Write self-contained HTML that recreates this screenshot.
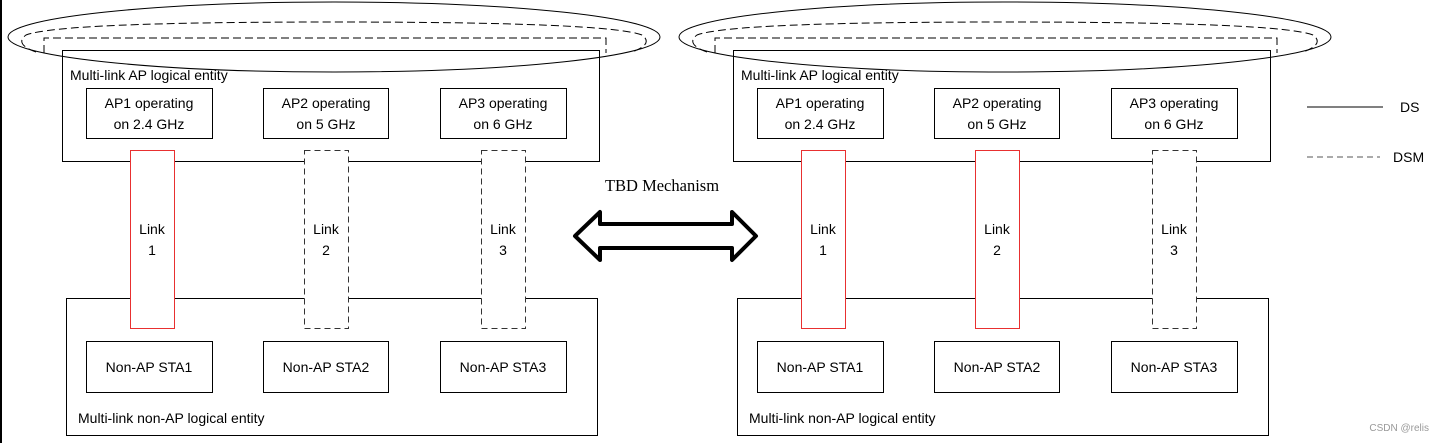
<!DOCTYPE html>
<html><head><meta charset="utf-8"><style>
html,body{margin:0;padding:0;background:#fff;}
svg{display:block;}
text{font-family:"Liberation Sans",sans-serif;font-size:14px;fill:#000;}
</style></head><body>
<svg width="1438" height="443" viewBox="0 0 1438 443" xmlns="http://www.w3.org/2000/svg">
<rect x="0" y="0" width="2" height="443" fill="#000"/>
<defs>
<g id="side">
  <ellipse cx="334" cy="37" rx="326" ry="35" fill="none" stroke="#000" stroke-width="1"/>
  <path d="M36 52 Q14 44 26 35 Q60 22 334 22 Q608 22 642 35 Q654 44 632 52" fill="none" stroke="#000" stroke-dasharray="8,4"/>
  <path d="M44 53 L44 38 L606 38 L606 53" fill="none" stroke="#000" stroke-dasharray="8,4"/>
  <rect x="62.5" y="50.5" width="537" height="111" fill="none" stroke="#000"/>
  <text x="70" y="80">Multi-link AP logical entity</text>
  <rect x="86.5" y="88.5" width="126" height="50" fill="#fff" stroke="#000"/>
  <rect x="263.5" y="88.5" width="125" height="50" fill="#fff" stroke="#000"/>
  <rect x="440.5" y="88.5" width="126" height="50" fill="#fff" stroke="#000"/>
  <text x="149" y="108" text-anchor="middle">AP1 operating</text>
  <text x="149" y="129" text-anchor="middle">on 2.4 GHz</text>
  <text x="326" y="108" text-anchor="middle">AP2 operating</text>
  <text x="326" y="129" text-anchor="middle">on 5 GHz</text>
  <text x="503" y="108" text-anchor="middle">AP3 operating</text>
  <text x="503" y="129" text-anchor="middle">on 6 GHz</text>
  <rect x="66.5" y="298.5" width="531" height="137" fill="none" stroke="#000"/>
  <rect x="86.5" y="341.5" width="126" height="51" fill="#fff" stroke="#000"/>
  <rect x="263.5" y="341.5" width="125" height="51" fill="#fff" stroke="#000"/>
  <rect x="440.5" y="341.5" width="126" height="51" fill="#fff" stroke="#000"/>
  <text x="149" y="372" text-anchor="middle">Non-AP STA1</text>
  <text x="326" y="372" text-anchor="middle">Non-AP STA2</text>
  <text x="503" y="372" text-anchor="middle">Non-AP STA3</text>
  <text x="78" y="423">Multi-link non-AP logical entity</text>
</g>
</defs>
<use href="#side"/>
<use href="#side" transform="translate(671,0)"/>
<rect x="130.5" y="150.5" width="44" height="178" fill="#fff" stroke="#e83030"/>
<rect x="304.5" y="150.5" width="44" height="178" fill="#fff" stroke="#333" stroke-dasharray="6,4"/>
<rect x="481.5" y="150.5" width="44" height="178" fill="#fff" stroke="#333" stroke-dasharray="6,4"/>
<text x="152" y="234" text-anchor="middle">Link</text><text x="152" y="255" text-anchor="middle">1</text>
<text x="326" y="234" text-anchor="middle">Link</text><text x="326" y="255" text-anchor="middle">2</text>
<text x="503" y="234" text-anchor="middle">Link</text><text x="503" y="255" text-anchor="middle">3</text>
<rect x="801.5" y="150.5" width="44" height="178" fill="#fff" stroke="#e83030"/>
<rect x="975.5" y="150.5" width="44" height="178" fill="#fff" stroke="#e83030"/>
<rect x="1152.5" y="150.5" width="44" height="178" fill="#fff" stroke="#333" stroke-dasharray="6,4"/>
<text x="823" y="234" text-anchor="middle">Link</text><text x="823" y="255" text-anchor="middle">1</text>
<text x="997" y="234" text-anchor="middle">Link</text><text x="997" y="255" text-anchor="middle">2</text>
<text x="1174" y="234" text-anchor="middle">Link</text><text x="1174" y="255" text-anchor="middle">3</text>
<text x="662" y="191" text-anchor="middle" style="font-family:'Liberation Serif',serif;font-size:16.5px">TBD Mechanism</text>
<path d="M575 236 L600 212 L600 224 L732 224 L732 212 L756 236 L732 260 L732 248 L600 248 L600 260 Z" fill="#fff" stroke="#000" stroke-width="4" stroke-linejoin="round"/>
<line x1="1307" y1="107" x2="1383" y2="107" stroke="#000"/>
<text x="1400" y="112">DS</text>
<line x1="1307" y1="157" x2="1380" y2="157" stroke="#555" stroke-dasharray="6,4"/>
<text x="1393" y="162">DSM</text>
<text x="1429" y="431" text-anchor="end" style="font-size:10px;fill:#999">CSDN @relis</text>
</svg>
</body></html>
